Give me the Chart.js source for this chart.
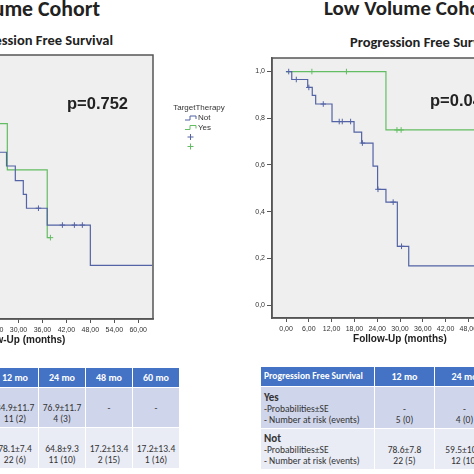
<!doctype html>
<html lang="en">
<head>
<meta charset="utf-8">
<title>Progression Free Survival by Volume Cohort</title>
<style>
  * { margin: 0; padding: 0; }
  body {
    width: 474px;
    height: 474px;
    overflow: hidden;
    position: relative;
    background: #fff;
    font-family: Carlito, Calibri, Lato, sans-serif;
    color: #222;
  }
  .abs { position: absolute; white-space: nowrap; width: max-content; }
  .cohort { font-size: 21px; line-height: 21px; font-weight: bold; }
  .sub { font-size: 14.5px; line-height: 14.5px; font-weight: bold; }
  .pval { font-size: 16.5px; line-height: 16.5px; font-weight: bold; font-family: "Liberation Sans", Arial, sans-serif; }
  canvas { position: absolute; }
  table {
    position: absolute;
    border-collapse: collapse;
    table-layout: fixed;
    font-size: 9.5px;
    line-height: 11px;
    color: #333;
  }
  th, td {
    border: 1.5px solid #fff;
    text-align: center;
    vertical-align: bottom;
    padding: 0 2px 2.5px;
    white-space: nowrap;
    overflow: hidden;
  }
  th {
    background: #4472c4;
    color: #fff;
    font-weight: bold;
    font-size: 10px;
    vertical-align: middle;
    padding: 0 2px;
  }
  th.lab { text-align: left; padding-left: 3px; font-size: 9.5px; }
  tr.head { height: 20px; }
  tr.r2 { height: 41px; }
  tr.r1 td { background: #cfd5ea; }
  tr.r2 td { background: #e9ebf5; }
  td.lab { text-align: left; padding-left: 3px; }
  td.lab b { font-size: 11px; }
</style>
</head>
<body>
  <div class="abs cohort" style="right:374px; top:-2.5px; font-size:21.8px; line-height:21.8px;">High Volume Cohort</div>
  <div class="abs cohort" style="left:324px; top:-2px;">Low Volume Cohort</div>
  <div class="abs sub" style="right:361px; top:33px;">Progression Free Survival</div>
  <div class="abs sub" style="left:350px; top:34.5px;">Progression Free Survival</div>

  <canvas id="highChart" width="389" height="301" style="left:-156px; top:50px;"></canvas>
  <canvas id="lowChart" width="291" height="297" style="left:242px; top:53px;"></canvas>

  <div class="abs pval" style="left:67px; top:95px;">p=0.752</div>
  <div class="abs pval" style="left:430px; top:92px;">p=0.04</div>

  <table id="highTable" style="left:-123px; top:367px; width:302px;">
    <colgroup><col style="width:114px"><col style="width:47px"><col style="width:47px"><col style="width:47px"><col style="width:47px"></colgroup>
    <tr class="head"><th class="lab">Progression Free Survival</th><th>12 mo</th><th>24 mo</th><th>48 mo</th><th>60 mo</th></tr>
    <tr class="r1" style="height:40px"><td class="lab"><b>Yes</b><br>-Probabilities±SE<br>- Number at risk (events)</td>
      <td>84.9±11.7<br>11 (2)</td><td>76.9±11.7<br>4 (3)</td><td>-<br>&nbsp;</td><td>-<br>&nbsp;</td></tr>
    <tr class="r2"><td class="lab"><b>Not</b><br>-Probabilities±SE<br>- Number at risk (events)</td>
      <td>78.1±7.4<br>22 (6)</td><td>64.8±9.3<br>11 (10)</td><td>17.2±13.4<br>2 (15)</td><td>17.2±13.4<br>1 (16)</td></tr>
  </table>

  <table id="lowTable" style="left:260px; top:366px; width:234px;">
    <colgroup><col style="width:114px"><col style="width:60px"><col style="width:60px"></colgroup>
    <tr class="head"><th class="lab">Progression Free Survival</th><th>12 mo</th><th>24 mo</th></tr>
    <tr class="r1" style="height:42px"><td class="lab"><b>Yes</b><br>-Probabilities±SE<br>- Number at risk (events)</td>
      <td>-<br>5 (0)</td><td>-<br>4 (0)</td></tr>
    <tr class="r2"><td class="lab"><b>Not</b><br>-Probabilities±SE<br>- Number at risk (events)</td>
      <td>78.6±7.8<br>22 (5)</td><td>59.5±10.1<br>12 (10)</td></tr>
  </table>

  <script src="https://cdn.jsdelivr.net/npm/chart.js/dist/chart.umd.min.js"></script>
  <script>
    // axes
    const xTickValues = [0, 6, 12, 18, 24, 30, 36, 42, 48, 54, 60];
    const xTickLabels = ['0,00', '6,00', '12,00', '18,00', '24,00', '30,00', '36,00', '42,00', '48,00', '54,00', '60,00'];
    const yTickValues = [0, 0.2, 0.4, 0.6, 0.8, 1.0];
    const yTickLabels = ['0,0', '0,2', '0,4', '0,6', '0,8', '1,0'];
    const seriesNames = ['Not', 'Yes'];

    // high volume cohort - survival steps (time in months, survival)
    const highNotTime = [0, 10, 20, 27, 29.2, 31.2, 32, 37.2, 48, 63.5];
    const highNotSurv = [1.0, 0.781, 0.648, 0.590, 0.528, 0.470, 0.412, 0.341, 0.171, 0.171];
    const highNotCensTime = [35, 41, 44, 46];
    const highNotCensSurv = [0.412, 0.341, 0.341, 0.341];
    const highYesTime = [0, 10, 18, 27.2, 37.2, 38];
    const highYesSurv = [1.0, 0.849, 0.769, 0.574, 0.288, 0.288];
    const highYesCensTime = [38];
    const highYesCensSurv = [0.288];

    // low volume cohort
    const lowNotTime = [0, 1.5, 5.7, 6.9, 7.8, 12.1, 17.9, 19.9, 22.9, 24.1, 26.3, 29.3, 32.3, 64];
    const lowNotSurv = [1.0, 0.966, 0.932, 0.898, 0.861, 0.786, 0.741, 0.694, 0.595, 0.496, 0.441, 0.252, 0.168, 0.168];
    const lowNotCensTime = [0.7, 2.7, 6.0, 9.8, 14, 14.8, 17, 20.1, 24.2, 28.2, 30.4];
    const lowNotCensSurv = [1.0, 0.966, 0.932, 0.861, 0.786, 0.786, 0.786, 0.694, 0.496, 0.441, 0.252];
    const lowYesTime = [0, 26.3, 64];
    const lowYesSurv = [1.0, 0.75, 0.75];
    const lowYesCensTime = [6.8, 15.9, 29.2, 30.3];
    const lowYesCensSurv = [1.0, 1.0, 0.75, 0.75];

    const blue = '#5363a5';
    const green = '#63bd63';
    const axisFont = { family: '"Liberation Sans", Arial, sans-serif', size: 7 };

    const toPts = (t, s) => t.map((v, i) => ({ x: v, y: s[i] }));

    const panelBg = {
      id: 'panelBg',
      beforeDraw(chart) {
        const { ctx, chartArea: a } = chart;
        ctx.save();
        ctx.fillStyle = '#efefef';
        ctx.fillRect(a.left, a.top, a.right - a.left, a.bottom - a.top);
        ctx.restore();
      },
      afterDraw(chart) {
        const { ctx, chartArea: a } = chart;
        ctx.save();
        ctx.strokeStyle = '#555';
        ctx.lineWidth = 1.5;
        ctx.strokeRect(a.left, a.top, a.right - a.left, a.bottom - a.top);
        ctx.restore();
      }
    };

    // SPSS style legend to the right of the left panel
    const kmLegend = {
      id: 'kmLegend',
      afterDraw(chart) {
        const { ctx } = chart;
        const x0 = chart.chartArea.right + 32;
        const y0 = chart.chartArea.top + 53;
        ctx.save();
        ctx.font = '8px "Liberation Sans", Arial, sans-serif';
        ctx.fillStyle = '#333';
        ctx.textAlign = 'center';
        ctx.textBaseline = 'middle';
        ctx.fillText('TargetTherapy', x0 + 14, y0);
        ctx.textAlign = 'left';
        [blue, green].forEach((c, i) => {
          const y = y0 + 10 + i * 9.5;
          ctx.strokeStyle = c;
          ctx.lineWidth = 1;
          ctx.beginPath();
          ctx.moveTo(x0, y + 2);
          ctx.lineTo(x0 + 5, y + 2);
          ctx.lineTo(x0 + 5, y - 2);
          ctx.lineTo(x0 + 11, y - 2);
          ctx.lineTo(x0 + 11, y + 1);
          ctx.stroke();
          ctx.fillText(seriesNames[i], x0 + 13, y);
          const yc = y0 + 29 + i * 9.5;
          ctx.beginPath();
          ctx.moveTo(x0 + 2.5, yc);
          ctx.lineTo(x0 + 8.5, yc);
          ctx.moveTo(x0 + 5.5, yc - 3);
          ctx.lineTo(x0 + 5.5, yc + 3);
          ctx.stroke();
        });
        ctx.restore();
      }
    };

    function makeChart(id, d, yWidth, padRight, extraPlugins) {
      return new Chart(document.getElementById(id), {
        type: 'line',
        data: {
          datasets: [
            { label: 'Not', data: toPts(d.notT, d.notS), stepped: true, borderColor: blue, borderWidth: 1.2, pointRadius: 0 },
            { label: 'Yes', data: toPts(d.yesT, d.yesS), stepped: true, borderColor: green, borderWidth: 1.2, pointRadius: 0 },
            { label: 'Not censored', data: toPts(d.notCT, d.notCS), showLine: false, pointStyle: 'cross', pointRadius: 2.8, borderColor: blue, borderWidth: 1 },
            { label: 'Yes censored', data: toPts(d.yesCT, d.yesCS), showLine: false, pointStyle: 'cross', pointRadius: 2.8, borderColor: green, borderWidth: 1 }
          ]
        },
        options: {
          responsive: false,
          animation: false,
          layout: { padding: { left: 0, right: padRight, top: 0, bottom: 0 } },
          plugins: { legend: { display: false }, tooltip: { enabled: false } },
          scales: {
            x: {
              type: 'linear',
              min: -3.7,
              max: 63.7,
              afterBuildTicks: s => { s.ticks = xTickValues.map(v => ({ value: v })); },
              afterFit: s => { s.height = 32; s.paddingLeft = 0; s.paddingRight = 0; },
              ticks: { callback: (v, i) => xTickLabels[i], font: axisFont, color: '#333', padding: 3, maxRotation: 0, autoSkip: false },
              grid: { drawOnChartArea: false, tickLength: 4, color: '#555' },
              border: { color: '#555', width: 1.5 },
              title: { display: true, text: 'Follow-Up (months)', color: '#222', font: { family: '"Liberation Sans", Arial, sans-serif', size: 10, weight: 'bold' }, padding: { top: 0, bottom: 5 } }
            },
            y: {
              type: 'linear',
              min: -0.055,
              max: 1.058,
              afterBuildTicks: s => { s.ticks = yTickValues.map(v => ({ value: v })); },
              afterFit: s => { s.width = yWidth; s.paddingTop = 0; s.paddingBottom = 0; },
              ticks: { callback: (v, i) => yTickLabels[i], font: axisFont, color: '#333', padding: 2 },
              grid: { drawOnChartArea: false, tickLength: 5, color: '#555' },
              border: { color: '#555', width: 1.5 }
            }
          }
        },
        plugins: [panelBg].concat(extraPlugins)
      });
    }

    makeChart('highChart', {
      notT: highNotTime, notS: highNotSurv, notCT: highNotCensTime, notCS: highNotCensSurv,
      yesT: highYesTime, yesS: highYesSurv, yesCT: highYesCensTime, yesCS: highYesCensSurv
    }, 40, 80, [kmLegend]);

    makeChart('lowChart', {
      notT: lowNotTime, notS: lowNotSurv, notCT: lowNotCensTime, notCS: lowNotCensSurv,
      yesT: lowYesTime, yesS: lowYesSurv, yesCT: lowYesCensTime, yesCS: lowYesCensSurv
    }, 30, 0, []);
  </script>
</body>
</html>
